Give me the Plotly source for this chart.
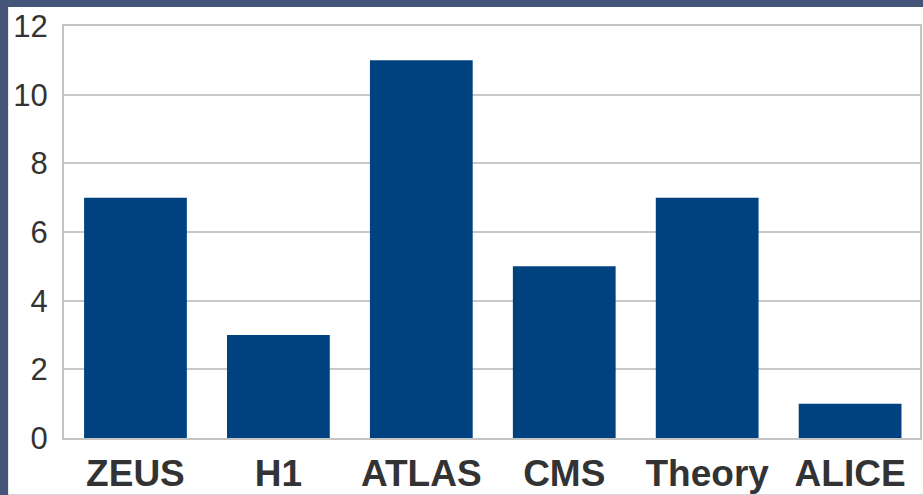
import plotly.graph_objects as go

categories = ["ZEUS", "H1", "ATLAS", "CMS", "Theory", "ALICE"]
values = [7, 3, 11, 5, 7, 1]
y_ticks = [0, 2, 4, 6, 8, 10, 12]

W, H = 923, 495
L, R, T, B = 64, 1, 26, 55
pw, ph = W - L - R, H - T - B

fig = go.Figure(go.Bar(x=categories, y=values, marker=dict(color="#00427f", line=dict(width=0))))

# white panel behind the chart (slide background is textured blue)
x0 = (8 - L) / pw
x1 = (W + 2 - L) / pw
y1 = (H - B - 7) / ph
y0 = (H - B - H - 2) / ph
fig.add_shape(type="rect", xref="paper", yref="paper", x0=x0, x1=x1, y0=y0, y1=y1,
              fillcolor="white", line=dict(width=0), layer="below")

fig.update_layout(
    width=W, height=H,
    margin=dict(l=L, r=R, t=T, b=B, pad=0),
    paper_bgcolor="#45557a",
    plot_bgcolor="white",
    bargap=0.281,
    showlegend=False,
    font=dict(family="Liberation Sans, Arial, sans-serif", color="#333333"),
    xaxis=dict(range=[-0.5, 5.489], showgrid=False, showline=True, mirror=True, linecolor="#c4c4c4", linewidth=2,
               tickfont=dict(size=37, family="Liberation Sans, Arial, sans-serif", color="#333333", weight="bold"),
               ticks="", ticklabelstandoff=2),
    yaxis=dict(range=[0, 12], tickvals=y_ticks, showgrid=True, gridcolor="#c8c8c8", gridwidth=2,
               showline=True, mirror=True, linecolor="#c4c4c4", linewidth=2, zeroline=False,
               tickfont=dict(size=31, color="#333333"), ticks="", ticklabelstandoff=8),
)

fig.write_html("out.html")
